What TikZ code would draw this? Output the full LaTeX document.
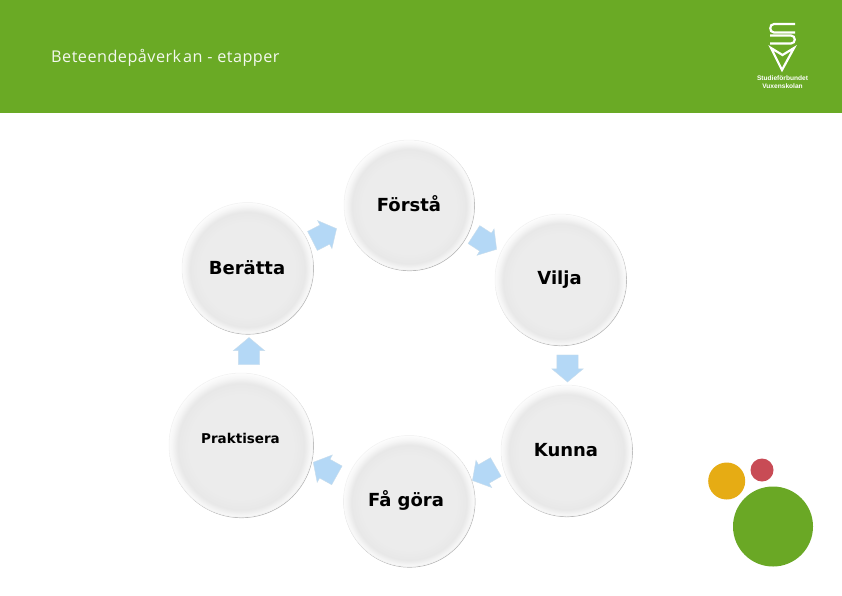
\documentclass[tikz,border=0pt]{standalone}
\usepackage{fontspec}
\setmainfont{DejaVu Sans}
\newfontfamily\titlefont[LetterSpace=3.0]{Open Sans}
\newfontfamily\logofont{Liberation Sans}
\usetikzlibrary{shapes.arrows}
\definecolor{hdr}{HTML}{6AAA25}
\definecolor{arr}{HTML}{B4D8F6}
\definecolor{arredge}{HTML}{C9DDEC}
\definecolor{dotyellow}{HTML}{E6AC14}
\definecolor{dotred}{HTML}{C84B55}
\definecolor{dotgreen}{HTML}{6AA825}
\definecolor{ballmid}{HTML}{ECECEC}
\definecolor{ballband}{HTML}{E8E8E8}
\definecolor{ballrim}{HTML}{F6F6F6}
\pgfdeclareradialshading{rimball}{\pgfpoint{0bp}{-1bp}}{
  color(0bp)=(ballmid); color(18bp)=(ballmid); color(22bp)=(ballband);
  color(24bp)=(ballrim); color(26bp)=(white); color(50bp)=(white)}
\tikzset{
  ball/.style={circle,draw=black!5,line width=0.5pt,shading=rimball,minimum size=#1,inner sep=0pt,
    preaction={draw=black!28,line width=0.7pt,transform canvas={shift={(0.5pt,-0.7pt)}}}},
  lab/.style={font=\bfseries\fontsize{18}{20}\selectfont,text=black},
  blockarr/.style={single arrow,fill=arr,draw=arredge,line width=0.4pt,minimum width=31pt,minimum height=27pt,
    single arrow head extend=5pt,single arrow tip angle=100,inner xsep=0pt,inner ysep=10.5pt,rotate=#1},
  dot/.style={circle,minimum size=#1,inner sep=0pt},
  logoline/.style={draw=white,line width=2.2pt,line join=miter},
  logotext/.style={font=\logofont\bfseries\fontsize{6.6}{7}\selectfont,text=white,inner sep=0pt}
}
\begin{document}
\begin{tikzpicture}[x=1pt,y=-1pt]
\useasboundingbox (0,0) rectangle (842,595);
\fill[white] (0,0) rectangle (842,595);
\fill[hdr] (0,0) rectangle (842,112.5);
\node[anchor=west,text=white!92!hdr,inner sep=0pt,font=\titlefont\fontsize{16.2}{18}\selectfont] (title) at (51,58) {Beteendepåverk\kern2pt an - etapper};
% logo
\draw[logoline] (795,24) -- (774,24) .. controls (769,24) and (769,32.5) .. (774,32.5) -- (795,32.5);
\draw[logoline] (770,35.5) -- (791,35.5) .. controls (796,35.5) and (796,43.5) .. (791,43.5) -- (770,43.5);
\draw[logoline] (771,48) -- (782,70) -- (794,48) -- (782.5,55) -- cycle;
\node[logotext] (logoa) at (782.5,78.5) {Studieförbundet};
\node[logotext] (logob) at (782.5,86) {Vuxenskolan};
% balls
\node[ball=130pt] (forsta) at (409,205) {};
\node[ball=131pt] (beratta) at (247.5,268) {};
\node[ball=131pt] (vilja) at (560.5,279.5) {};
\node[ball=131pt] (kunna) at (566.5,450.5) {};
\node[ball=131pt] (fagora) at (409,501) {};
\node[ball=144pt] (praktisera) at (241,445) {};
% labels
\node[lab] (t1) at (409,204) {Förstå};
\node[lab] (t2) at (247,267.5) {Berätta};
\node[lab] (t3) at (559.5,280) {Vilja};
\node[lab] (t4) at (566,450) {Kunna};
\node[lab] (t5) at (406,500.5) {Få göra};
\node[lab,font=\bfseries\fontsize{13.5}{16}\selectfont] (t6) at (240.5,438) {Praktisera};
% arrows
\node[blockarr=27] (a1) at (320.5,236.8) {};
\node[blockarr=-33] (a2) at (481.5,239.5) {};
\node[blockarr=-90] (a3) at (567.5,364) {};
\node[blockarr=210] (a4) at (488,471.5) {};
\node[blockarr=151] (a5) at (329,471) {};
\node[blockarr=90] (a6) at (249,355.5) {};
% dots
\node[dot=37pt,fill=dotyellow] (d1) at (726.7,481) {};
\node[dot=23pt,fill=dotred] (d2) at (762,470) {};
\node[dot=80pt,fill=dotgreen] (d3) at (773,526.5) {};
\end{tikzpicture}
\end{document}
